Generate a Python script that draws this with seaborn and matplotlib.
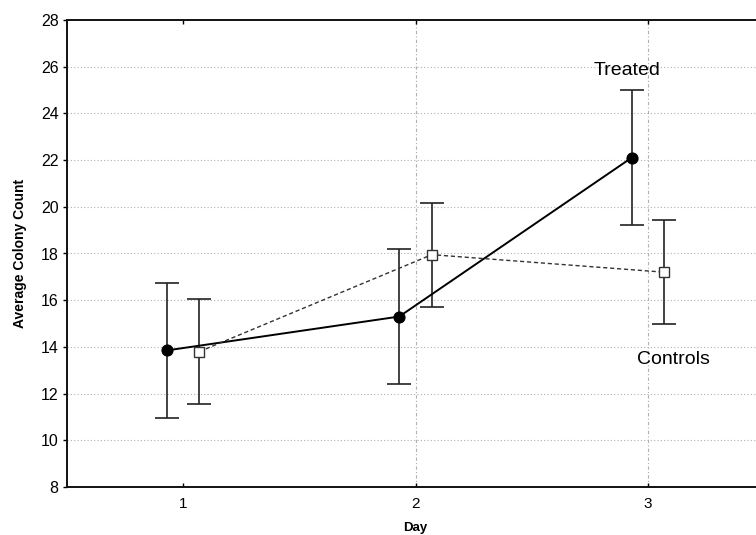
import matplotlib
matplotlib.use("Agg")
import matplotlib.pyplot as plt
import seaborn as sns
import pandas as pd

# Average colony counts per day with ± error half-widths
days = [1, 2, 3]
treated_mean = [13.85, 15.3, 22.1]
treated_err = [2.9, 2.9, 2.9]
control_mean = [13.8, 17.95, 17.2]
control_err = [2.25, 2.22, 2.24]
day_ticks = ["1", "2", "3"]
y_ticks = [8, 10, 12, 14, 16, 18, 20, 22, 24, 26, 28]

sns.set_theme(style="white")
plt.rcParams["font.family"] = ["Liberation Sans", "DejaVu Sans"]
plt.rcParams["text.color"] = "black"
plt.rcParams["axes.labelcolor"] = "black"
plt.rcParams["xtick.color"] = "black"
plt.rcParams["ytick.color"] = "black"

df = pd.DataFrame({
    "Day": days * 2,
    "Count": treated_mean + control_mean,
    "Err": treated_err + control_err,
    "Group": ["Treated"] * 3 + ["Controls"] * 3,
})
shift = {"Treated": -0.07, "Controls": 0.07}
df["x"] = df["Day"] + df["Group"].map(shift)

fig = plt.figure(figsize=(7.56, 5.35), dpi=100)
ax = fig.add_axes([67 / 756, 48 / 535, (764 - 67) / 756, (487 - 20) / 535])

# grid first so it sits behind the data
for yv in y_ticks[1:-1]:
    ax.axhline(yv, color="#b0b0b0", lw=0.8, ls=(0, (1, 2)), zorder=0)
for xv in [2, 3]:
    ax.axvline(xv, color="#b0b0b0", lw=0.8, ls=(0, (3, 2, 1, 2)), zorder=0)

sns.lineplot(data=df, x="x", y="Count", hue="Group", style="Group",
             hue_order=["Treated", "Controls"],
             palette={"Treated": "black", "Controls": "#333333"},
             dashes={"Treated": "", "Controls": (3, 2)},
             markers={"Treated": "o", "Controls": "s"},
             legend=False, ax=ax, zorder=3)
for ln in ax.lines:
    if ln.get_marker() == "o":
        ln.set_linewidth(1.4)
        ln.set_markersize(8)
        ln.set_markerfacecolor("black")
        ln.set_markeredgecolor("black")
    elif ln.get_marker() == "s":
        ln.set_linewidth(1.0)
        ln.set_markersize(6.5)
        ln.set_markerfacecolor("white")
        ln.set_markeredgecolor("#333333")
        ln.set_markeredgewidth(1.0)

for grp in ["Treated", "Controls"]:
    sub = df[df["Group"] == grp]
    ax.errorbar(sub["x"], sub["Count"], yerr=sub["Err"], fmt="none",
                ecolor="#222222", elinewidth=1.2, capsize=8.5, capthick=1.2,
                zorder=2)

ax.set_xlim(0.5, 3.5)
ax.set_ylim(8, 28)
ax.set_xticks(days)
ax.set_xticklabels(day_ticks, fontsize=11)
ax.set_yticks(y_ticks)
ax.set_yticklabels([str(v) for v in y_ticks], fontsize=11.5)
ax.tick_params(axis="x", direction="in", length=3, width=1, top=True, bottom=True, pad=7)
ax.tick_params(axis="y", direction="out", length=3, width=1, left=True, pad=3)

for side in ["left", "bottom", "top"]:
    ax.spines[side].set_color("#111111")
    ax.spines[side].set_linewidth(1.4)
ax.spines["right"].set_visible(False)

ax.set_xlabel("Day", fontsize=9.5, fontweight="bold",
              family=["Liberation Sans Narrow", "Liberation Sans"], labelpad=8)
ax.set_ylabel("Average Colony Count", fontsize=10, fontweight="bold",
              family=["Liberation Sans Narrow", "Liberation Sans"], labelpad=10)

ax.text(2.91, 25.85, "Treated", fontsize=14, ha="center", va="center")
ax.text(3.11, 13.45, "Controls", fontsize=14, ha="center", va="center")

fig.savefig("out.png", dpi=100)
